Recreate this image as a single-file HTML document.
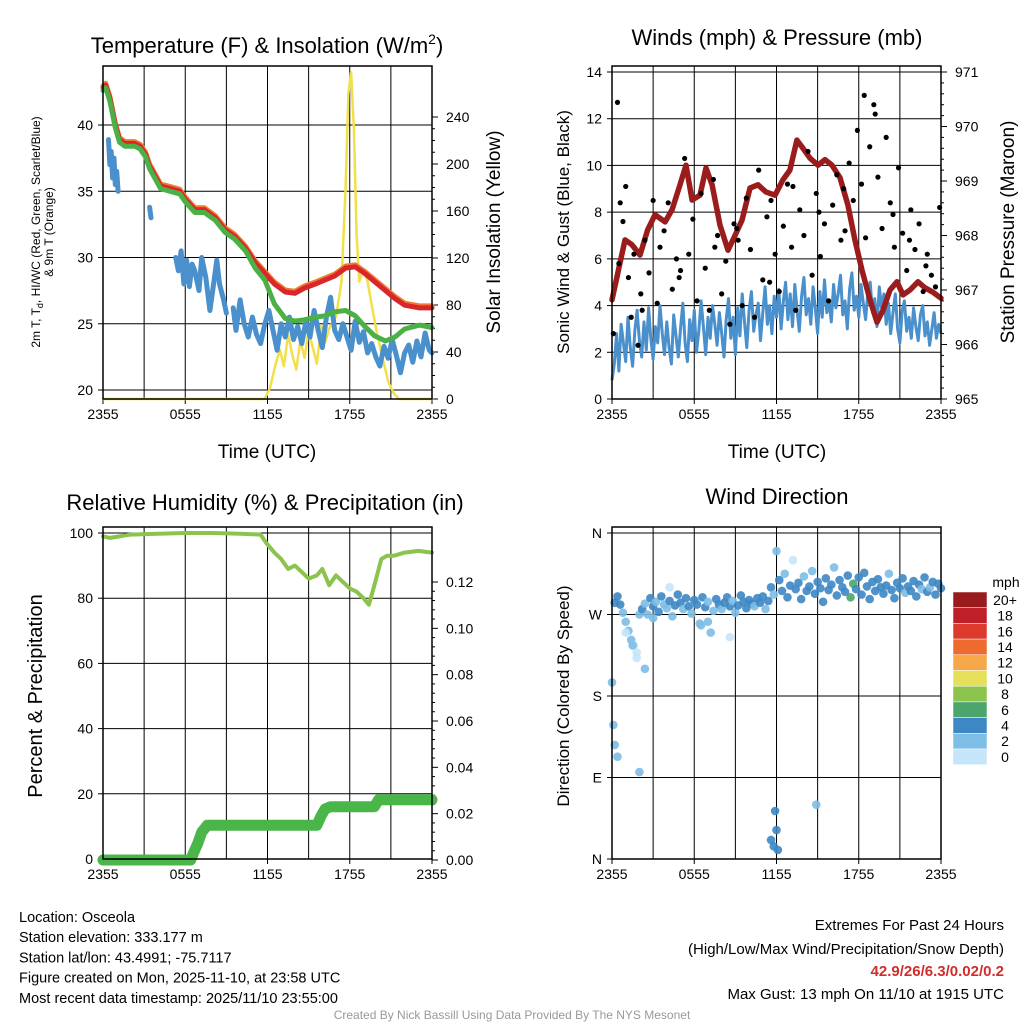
<!DOCTYPE html>
<html><head><meta charset="utf-8"><style>
body{margin:0;background:#fff}
svg{font-family:"Liberation Sans",sans-serif}
</style></head><body>
<svg id="s" width="1024" height="1024" viewBox="0 0 1024 1024" xmlns="http://www.w3.org/2000/svg"></svg>
<script>
// ---------- DATA ----------
const tempH=[0,0.2,0.5,0.9,1.2,1.6,2.3,2.7,3.1,3.4,4.2,4.9,5.6,6.0,6.7,7.4,8.2,8.9,9.6,10.4,11.1,11.8,12.5,13.3,14.0,14.7,15.5,16.2,16.9,17.7,18.4,19.1,19.8,20.6,21.3,22.0,23.1,24];
const tempRed=[42.8,43,42,40,38.9,38.6,38.6,38.4,37.8,36.9,35.4,35.2,35.0,34.4,33.6,33.6,33.0,32.1,31.6,30.7,29.6,28.8,28,27.4,27.3,27.7,28.0,28.3,28.6,29.2,29.3,28.8,28.2,27.5,26.9,26.4,26.2,26.2];
const tempGreen=[42.6,42.8,41.8,39.8,38.7,38.4,38.4,38.2,37.6,36.7,35.2,35.0,34.8,34.2,33.4,33.4,32.8,31.9,31.4,30.5,29.2,28.3,26.5,25.4,25.2,25.3,25.5,25.6,25.9,26.0,25.6,24.8,24.1,23.7,24.0,24.6,24.9,24.7];
const dewH=[0.4,0.5,0.6,0.7,0.8,0.9,1.0,1.1,1.15,3.4,3.5,3.55,5.3,5.5,5.7,5.9,6.1,6.3,6.5,6.7,7.0,7.2,7.5,7.8,8.0,8.3,8.5,8.8,9.0,9.1,9.5,9.7,10,10.3,10.6,10.9,11.2,11.5,11.8,12.1,12.4,12.7,13,13.3,13.6,13.9,14.2,14.5,14.8,15.1,15.4,15.7,16,16.3,16.6,16.9,17.2,17.5,17.8,18.1,18.4,18.7,19,19.3,19.6,19.9,20.2,20.5,20.8,21.1,21.4,21.7,22,22.3,22.6,22.9,23.2,23.5,23.8,24];
const dewV=[38.9,37,38,36,37.5,35.5,36.5,35,null,33.8,33,null,30,29,30.5,28,29.8,27.8,29.5,29,27.5,30,28.5,26,27.5,29.8,28,26.8,25.8,null,26.2,24.5,26.8,25,24,25.5,24.2,23.5,25,26,24.5,23,25,24,25.5,23.8,24.8,23.5,25.2,24,26,24.5,23.2,25.5,27,24.5,23.8,25,24,23,25.2,23.6,24.4,22.8,23.5,22.5,21.8,23.3,22.4,23.8,22.6,21.3,22.8,23.4,22.1,23.7,22.5,24.3,23,22.8];
const solarH=[0,11.8,12.2,12.6,12.9,13.2,13.5,13.8,14.1,14.4,14.7,15,15.3,15.6,15.9,16.2,16.5,17,17.4,17.7,17.9,18.1,18.3,18.5,18.7,19.0,19.3,19.6,20,20.4,20.8,21.2,21.6,24];
const solarV=[0,0,10,30,42,28,55,38,25,50,35,58,44,30,62,48,60,70,100,180,260,278,230,140,100,110,100,80,55,35,15,5,0,0];
const windV=[0.8,1.5,2.8,1.2,3.2,2.4,1.6,3.5,2.2,1.4,2.9,3.8,2.5,1.8,3.3,2.1,3.9,2.6,1.7,3.1,2.4,4.0,2.8,1.9,
3.3,2.2,1.5,3.6,2.7,1.8,3.0,4.1,2.4,1.6,3.4,2.5,3.8,2.0,2.9,4.2,3.1,1.9,3.5,2.6,4.0,3.2,2.3,3.7,
2.8,1.8,3.4,4.3,2.6,3.5,1.9,3.9,2.7,4.5,3.3,2.2,3.8,4.6,2.9,3.6,4.1,2.5,3.7,4.8,3.2,4.0,2.8,4.4,
3.5,4.7,3.0,4.2,5.0,3.4,4.5,3.1,4.9,3.8,2.9,4.4,5.2,3.6,4.3,3.2,4.8,3.9,2.8,4.6,3.5,5.1,3.7,4.2,
3.3,4.9,3.9,4.5,5.3,3.6,4.2,3.0,4.7,5.4,3.8,4.4,3.5,4.9,4.1,3.4,4.6,5.0,3.7,4.3,3.1,4.8,3.9,4.5,
3.2,4.1,2.8,3.7,4.5,3.0,2.4,3.8,4.2,2.9,3.5,2.6,3.9,3.1,2.5,3.6,4.0,2.7,3.3,2.3,3.0,3.7,2.6,3.2,2.8];
const gustH=[0.1,0.4,0.6,0.8,1.0,1.2,1.4,1.6,1.9,2.1,2.4,2.7,3.0,3.3,3.5,3.8,4.1,4.4,4.7,5.0,5.3,5.6,5.9,6.2,6.5,6.8,7.1,7.4,7.7,8.0,8.3,8.6,8.9,9.2,9.5,9.8,10.1,10.4,10.7,11.0,11.3,11.6,11.9,12.2,12.5,12.8,13.1,13.4,13.7,14.0,14.3,14.6,14.9,15.2,15.5,15.8,16.1,16.4,16.7,17.0,17.3,17.6,17.9,18.2,18.5,18.8,19.1,19.4,19.7,20.0,20.3,20.6,20.9,21.2,21.5,21.8,22.1,22.4,22.7,23.0,23.3,23.6,23.9,0.5,2.2,4.9,7.5,9.1,11.5,13.2,15.1,16.9,18.4,19.2,20.5,21.7,22.9];
const gustV=[2.8,12.7,8.4,7.6,9.1,5.2,3.5,6.2,2.3,4.5,6.8,5.4,8.5,4.1,6.5,7.2,8.4,4.7,6.0,5.5,10.3,6.2,7.7,4.2,8.8,5.6,3.8,9.4,7.0,4.5,5.9,3.2,7.5,6.8,4.0,8.6,6.4,3.5,9.8,5.1,7.8,8.5,6.2,4.6,7.4,9.2,6.5,3.8,8.1,7.0,10.6,5.3,8.8,6.1,7.5,4.2,8.3,9.6,6.8,7.2,10.1,8.5,11.5,9.2,6.9,10.8,12.6,9.5,7.3,11.2,8.4,6.5,9.9,7.1,5.5,8.1,6.4,7.5,4.6,6.2,5.3,4.8,8.2,5.8,3.8,5.2,6.5,7.3,5.0,9.1,8.0,9.0,13.0,12.2,7.9,6.8,5.7];
const presH=[0,0.95,1.46,2.04,2.6,3.14,3.87,4.38,4.96,5.4,5.84,6.42,6.86,7.3,7.88,8.46,8.97,9.48,10.07,10.65,11.23,11.89,12.47,12.98,13.49,13.93,14.44,15.03,15.54,16.05,16.63,17.21,17.72,18.23,18.82,19.33,19.77,20.28,20.79,21.23,21.74,22.32,22.83,23.41,24];
const presV=[966.82,967.92,967.83,967.64,968.1,968.38,968.25,968.47,968.93,969.29,968.65,968.74,969.24,968.93,968.19,967.73,968.0,968.28,968.87,968.93,968.8,968.74,969.02,969.2,969.75,969.6,969.42,969.29,969.39,969.29,969.06,968.56,967.92,967.37,966.82,966.41,966.63,967.0,967.15,966.91,967.0,967.15,967.04,966.96,966.85];
const rhH=[0,0.5,2,4,6,8,10,11.5,11.9,12.5,13,13.5,14,14.5,15,15.6,16,16.5,17,17.5,18,18.5,19,19.4,19.8,20.3,20.7,21.2,22,23,24];
const rhV=[99,98.5,99.5,99.8,100,100,99.8,99.5,97,94,92,89,90,88,86,87,89,84,87,85,83,82,80,78,84,92,93,93,94,94.5,94];
const precH=[0,6.4,6.6,6.9,7.2,7.6,15.6,15.9,16.2,16.6,19.8,20.1,24];
const precV=[0,0,0.003,0.007,0.012,0.015,0.015,0.019,0.022,0.023,0.023,0.026,0.026];
// wind direction, one reading every 0.2 h
const dirMain=[195,283,290,281,272,262,252,242,236,228,270,
276,282,270,288,279,284,273,290,281,277,285,268,280,292,283,276,288,279,271,286,281,260,289,278,284,250,274,287,281,276,283,289,279,285,272,280,291,284,277,286,282,279,288,283,290,276,285,
300,292,340,308,296,315,289,302,330,298,305,287,312,296,301,318,293,306,299,284,310,297,303,322,291,308,300,295,313,289,304,298,311,292,316,301,287,306,296,309,300,293,302,315,297,288,305,299,310,294,301,296,307,290,303,298,311,295,300,306,292,304,299];
const spdMain=[1,3,3,4,2,2,1,1,0,0,2,
3,2,1,3,4,2,3,4,2,1,3,2,3,4,3,2,4,3,1,3,4,2,3,4,2,1,2,4,3,2,3,4,3,2,1,3,4,4,3,4,3,2,4,3,4,2,3,
4,2,1,3,4,2,4,3,0,4,3,4,2,4,3,2,4,4,3,4,4,3,4,2,4,3,4,4,3,6,6,4,3,4,4,3,4,4,3,4,4,4,3,2,4,3,4,3,4,2,3,4,3,3,4,2,3,4,2,3,4,4,3];
const dirExH=[0.1,0.2,0.4,2.0,1.0,1.5,1.8,2.4,11.6,11.8,12.0,12.1,11.9,14.9,7.0,8.6,6.5,3.0,4.2];
const dirExD=[148,126,113,96,250,236,222,210,21,14,32,10,53,60,262,245,258,266,300];
const dirExS=[1,2,1,1,0,1,0,1,4,3,4,3,4,2,1,0,1,1,0];
const timeTicks=["2355","0555","1155","1755","2355"];
const cbLabels=["20+","18","16","14","12","10","8","6","4","2","0"];
const cbColors=["#991b1e","#bf1f29","#dc3a2b","#ee6a2e","#f6a748","#e6df5c","#8cc34c","#4ba56c","#3d87c4","#7dbde6","#c4e6f8"];
const tempTicks=[20,25,30,35,40];
const solarTicks=[0,40,80,120,160,200,240];
const windTicks=[0,2,4,6,8,10,12,14];
const presTicks=[965,966,967,968,969,970,971];
const rhTicks=[0,20,40,60,80,100];
const precTicks=[0,0.02,0.04,0.06,0.08,0.10,0.12];
const dirTicks=["N","E","S","W","N"];

// ---------- HELPERS ----------
const S=document.getElementById('s'),NS='http://www.w3.org/2000/svg';
function mk(tag,at,parent,txt){const e=document.createElementNS(NS,tag);for(const k in at)e.setAttribute(k,at[k]);if(txt!==undefined)e.textContent=txt;(parent||S).appendChild(e);return e;}
function lin(d0,d1,r0,r1){return v=>r0+(v-d0)/(d1-d0)*(r1-r0);}
function pathOf(hs,vs,X,Y){let d='',pen=false;for(let i=0;i<hs.length;i++){if(vs[i]===null){pen=false;continue;}d+=(pen?'L':'M')+X(hs[i]).toFixed(1)+','+Y(vs[i]).toFixed(1);pen=true;}return d;}
function panel(name,L,T,R,B){
  const g=mk('g',{});
  const X=lin(0,24,L,R);
  for(let h=3;h<24;h+=3){const l=mk('line',{x1:X(h),x2:X(h),y1:T,y2:B,stroke:'#000','stroke-width':1},g);}
  timeTicks.forEach((t,i)=>{const x=X(i*6);const l=mk('line',{x1:x,x2:x,y1:B,y2:B+5,stroke:'#000'},g);
    const tx=mk('text',{x:x,y:B+20,'font-size':14,'text-anchor':'middle'},g,t);});
  return {g,X};
}
function frame(g,L,T,R,B){const r=mk('rect',{x:L,y:T,width:R-L,height:B-T,fill:'none',stroke:'#000','stroke-width':1.5},g);}
function leftAxis(g,ticks,Y,L,R,grid,labels){ticks.forEach((t,i)=>{const y=Y(typeof t==='number'?t:i);if(grid){const l=mk('line',{x1:L,x2:R,y1:y,y2:y,stroke:'#000'},g);}
  const tk=mk('line',{x1:L-5,x2:L,y1:y,y2:y,stroke:'#000'},g);
  const tx=mk('text',{x:L-10,y:y+5,'font-size':14,'text-anchor':'end'},g,labels?labels[i]:t);});}
function rightAxis(g,ticks,Y,R,fmt,minorN){ticks.forEach((t,i)=>{const y=Y(t);const tk=mk('line',{x1:R,x2:R+6,y1:y,y2:y,stroke:'#000'},g);
  const tx=mk('text',{x:R+14,y:y+5,'font-size':14},g,fmt(t));
  if(i<ticks.length-1){const st=(ticks[i+1]-t)/minorN;for(let k=1;k<minorN;k++){const m=mk('line',{x1:R,x2:R+3,y1:Y(t+st*k),y2:Y(t+st*k),stroke:'#000'},g);}}});}
function label(txt,x,y,size,rot,name,anchor){const t=mk('text',{x:x,y:y,'font-size':size,'text-anchor':anchor||'middle',transform:rot?`rotate(-90 ${x} ${y})`:''},S,txt);return t;}

// ---------- PANEL 1 ----------
(function(){const L=103,T=66,R=432,B=399;const p=panel('temperature-panel',L,T,R,B);const g=p.g,X=p.X;
 const Y=lin(20,40,390,125);const Y2=lin(0,240,399,117);
 leftAxis(g,tempTicks,Y,L,R,true);
 rightAxis(g,solarTicks,Y2,R,t=>t,4);
 const c=[['solar-line',solarH,solarV,Y2,'#f2e04a',2.5],['dewpoint-line',dewH,dewV,Y,'#4a90cc',5],['orange-9m-temp',tempH,tempRed.map(v=>v+0.15),Y,'#ef7a2f',5],['temp-line',tempH,tempRed,Y,'#d9262a',5],['green-hiwc-line',tempH,tempGreen,Y,'#4bb046',5]];
 c.forEach(s=>{const e=mk('path',{d:pathOf(s[1],s[2],X,s[3]),fill:'none',stroke:s[4],'stroke-width':s[5],'stroke-linejoin':'round','stroke-linecap':'round'},g);});
 frame(g,L,T,R,B);
})();
(function(){const t=mk('text',{x:267,y:53,'font-size':22,'text-anchor':'middle'},S);
 t.innerHTML='Temperature (F) &amp; Insolation (W/m<tspan font-size="14" dy="-9">2</tspan><tspan dy="9">)</tspan>';})();
label('Time (UTC)',267,458,19,false,'x-axis-title-1');
(function(){const t=mk('text',{x:40,y:232,'font-size':12,'text-anchor':'middle',transform:'rotate(-90 40 232)'},S);
 t.innerHTML='2m T, T<tspan font-size="9" dy="3">d</tspan><tspan dy="-3">, HI/WC (Red, Green, Scarlet/Blue)</tspan><tspan x="40" dy="13">&amp; 9m T (Orange)</tspan>';})();
label('Solar Insolation (Yellow)',500,232,19,true,'right-axis-title-1');

// ---------- PANEL 2 ----------
(function(){const L=612,T=66,R=941,B=399;const p=panel('wind-panel',L,T,R,B);const g=p.g,X=p.X;
 const Y=lin(0,14,399,72);const Y2=lin(965,971,399,72);
 leftAxis(g,windTicks,Y,L,R,true);
 rightAxis(g,presTicks,Y2,R,t=>t,5);
 const wh=windV.map((v,i)=>i*24/(windV.length-1));
 const w=mk('path',{d:pathOf(wh,windV,X,Y),fill:'none',stroke:'#4a90cc','stroke-width':3,'stroke-linejoin':'round'},g);
 const pr=mk('path',{d:pathOf(presH,presV,X,Y2),fill:'none',stroke:'#9b1c1c','stroke-width':5.5,'stroke-linejoin':'round','stroke-linecap':'round'},g);
 gustH.forEach((h,i)=>{const c=mk('circle',{cx:X(h),cy:Y(gustV[i]),r:2.6,fill:'#000'},g);});
 frame(g,L,T,R,B);
})();
label('Winds (mph) & Pressure (mb)',777,45,22,false,'wind-title');
label('Time (UTC)',777,458,19,false,'x-axis-title-2');
label('Sonic Wind & Gust (Blue, Black)',569,232,17,true,'y-axis-title-2');
label('Station Pressure (Maroon)',1014,232,19,true,'right-axis-title-2');

// ---------- PANEL 3 ----------
(function(){const L=103,T=527,R=432,B=859;const p=panel('humidity-panel',L,T,R,B);const g=p.g,X=p.X;
 const Y=lin(0,100,859,533);const Y2=lin(0,0.12,860,582);
 leftAxis(g,rhTicks,Y,L,R,true);
 rightAxis(g,precTicks,Y2,R,t=>t.toFixed(2),5);
 const pc=mk('path',{d:pathOf(precH,precV,X,Y2),fill:'none',stroke:'#4ab548','stroke-width':11,'stroke-linejoin':'round','stroke-linecap':'round'},g);
 const rh=mk('path',{d:pathOf(rhH,rhV,X,Y),fill:'none',stroke:'#8cc34c','stroke-width':4,'stroke-linejoin':'round','stroke-linecap':'round'},g);
 frame(g,L,T,R,B);
})();
label('Relative Humidity (%) & Precipitation (in)',265,510,22,false,'humidity-title');
label('Percent & Precipitation',42,696,20,true,'y-axis-title-3');

// ---------- PANEL 4 ----------
(function(){const L=612,T=527,R=941,B=859;const p=panel('direction-panel',L,T,R,B);const g=p.g,X=p.X;
 const Y=lin(0,360,859,533);
 leftAxis(g,[0,1,2,3,4],i=>Y(i*90),L,R,true,dirTicks);
 function dot(h,d,s){const c=mk('circle',{cx:X(h),cy:Y(d),r:4.3,fill:cbColors[10-Math.min(10,Math.round(s/2))],'fill-opacity':0.9},g);}
 dirMain.forEach((d,i)=>{if(d!==null)dot(i*0.2,d,spdMain[i]);});
 dirExH.forEach((h,i)=>dot(h,dirExD[i],dirExS[i]));
 frame(g,L,T,R,B);
 const cg=mk('g',{},S);
 const h=15.7;cbColors.forEach((c,i)=>{const r=mk('rect',{x:953,y:592+i*h,width:34,height:h,fill:c,stroke:'#fff','stroke-width':0.5},cg);
  const t=mk('text',{x:1005,y:592+i*h+h/2+5,'font-size':14,'text-anchor':'middle'},cg,cbLabels[i]);});
 const u=mk('text',{x:1006,y:587,'font-size':14,'text-anchor':'middle'},cg,'mph');
})();
label('Wind Direction',777,504,22,false,'direction-title');
label('Direction (Colored By Speed)',569,696,17,true,'y-axis-title-4');

// ---------- FOOTER ----------
['Location: Osceola','Station elevation: 333.177 m','Station lat/lon: 43.4991; -75.7117','Figure created on Mon, 2025-11-10, at 23:58 UTC','Most recent data timestamp: 2025/11/10 23:55:00'].forEach((t,i)=>label(t,19,922+i*20.2,14.5,false,'station-info-line','start'));
label('Extremes For Past 24 Hours',1004,930,15,false,'extremes-title','end');
label('(High/Low/Max Wind/Precipitation/Snow Depth)',1004,954,15,false,'extremes-subtitle','end');
const ex=label('42.9/26/6.3/0.02/0.2',1004,976,15,false,'extremes-values','end');ex.setAttribute('fill','#d22d2d');ex.setAttribute('font-weight','bold');
label('Max Gust: 13 mph On 11/10 at 1915 UTC',1004,999,15,false,'max-gust','end');
const cr=label('Created By Nick Bassill Using Data Provided By The NYS Mesonet',512,1019,12,false,'credit-line');cr.setAttribute('fill','#999');
</script>
</body></html>
